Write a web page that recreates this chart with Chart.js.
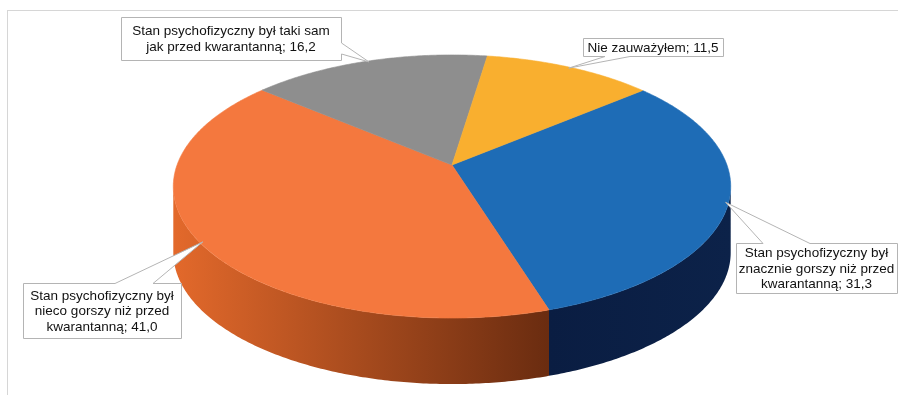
<!DOCTYPE html>
<html>
<head>
<meta charset="utf-8">
<script src="https://cdn.jsdelivr.net/npm/chart.js@4.4.0/dist/chart.umd.min.js"></script>
<style>
  html, body { margin: 0; padding: 0; background: #fff; }
  canvas { display: block; }
</style>
</head>
<body>
<canvas id="pieChart" width="898" height="395"></canvas>
<script>
var categories = [
  ['Stan psychofizyczny był', 'znacznie gorszy niż przed', 'kwarantanną'],
  ['Stan psychofizyczny był', 'nieco gorszy niż przed', 'kwarantanną'],
  ['Stan psychofizyczny był taki sam', 'jak przed kwarantanną'],
  ['Nie zauważyłem']
];
var values = [31.3, 41.0, 16.2, 11.5];

var topColors = ['#1e6cb6', '#f4783e', '#8e8e8e', '#f9af2f'];
// side wall gradient, left -> right
var wallColors = [['#0a1d42', '#0c2249'], ['#e3692b', '#6a2c10'], ['#6e6e6e', '#4a4a4a'], ['#c98a1e', '#9a6a14']];

// callout boxes: rect, which side the pointer leaves from and the pointer base on that side
var callouts = [
  { x: 736, y: 243, w: 161, h: 50, side: 'top', base: [763, 810] },
  { x: 23, y: 283, w: 158, h: 55, side: 'top', base: [115, 153] },
  { x: 121, y: 17, w: 220, h: 43, side: 'right', base: [43, 54] },
  { x: 583, y: 38, w: 140, h: 18, side: 'bottom', base: [605, 630] }
];

// tilted-disc projection, in units of the pie radius
var SX = 2.115;      // horizontal half axis
var SY = 0.985;      // vertical scale
var PERSP = 0.1635;  // front of the disc is nearer to the viewer
var DEPTH = 66;      // height of the side wall
var FONT = '13.5px "Liberation Sans", Arial, sans-serif';
var LINE_H = 15.5;

function fmt(v) {
  return v.toFixed(1).replace('.', ',');
}

// point on the disc at canvas angle a, radius fraction f
function project(arc, a, f) {
  var r = arc.outerRadius;
  var u = Math.cos(a) * f, v = Math.sin(a) * f;
  var w = 1 - PERSP * v;
  return [arc.x + r * SX * u / w, arc.y + r * SY * v / w];
}

function traceRim(ctx, arc, a1, a2, dy, first) {
  var n = Math.max(2, Math.ceil(Math.abs(a2 - a1) / 0.01));
  for (var k = 0; k <= n; k++) {
    var p = project(arc, a1 + (a2 - a1) * k / n, 1);
    if (k === 0 && first) ctx.moveTo(p[0], p[1] + dy);
    else ctx.lineTo(p[0], p[1] + dy);
  }
}

function calloutPath(ctx, c, apex) {
  var x0 = c.x + 0.5, y0 = c.y + 0.5, x1 = c.x + c.w + 0.5, y1 = c.y + c.h + 0.5;
  ctx.beginPath();
  ctx.moveTo(x0, y0);
  if (c.side === 'top') {
    ctx.lineTo(c.base[0], y0); ctx.lineTo(apex[0], apex[1]); ctx.lineTo(c.base[1], y0);
  }
  ctx.lineTo(x1, y0);
  if (c.side === 'right') {
    ctx.lineTo(x1, c.base[0]); ctx.lineTo(apex[0], apex[1]); ctx.lineTo(x1, c.base[1]);
  }
  ctx.lineTo(x1, y1);
  if (c.side === 'bottom') {
    ctx.lineTo(c.base[1], y1); ctx.lineTo(apex[0], apex[1]); ctx.lineTo(c.base[0], y1);
  }
  ctx.lineTo(x0, y1);
  ctx.closePath();
}

var pie3d = {
  id: 'pie3d',
  beforeDraw: function (chart) {
    // chart area frame, only top and left edges fall inside the canvas
    var ctx = chart.ctx;
    ctx.save();
    ctx.strokeStyle = '#d6d6d6';
    ctx.lineWidth = 1;
    ctx.strokeRect(7.5, 10.5, 1000, 1000);
    ctx.restore();
  },
  beforeDatasetsDraw: function (chart) {
    var ctx = chart.ctx;
    var arcs = chart.getDatasetMeta(0).data;
    // silhouette edges of the tilted disc
    var edge = Math.asin(PERSP);
    var lo = edge, hi = Math.PI - edge;
    ctx.save();

    // front walls
    arcs.forEach(function (arc, i) {
      [-2, 0, 2].forEach(function (turn) {
        var a1 = Math.max(arc.startAngle, turn * Math.PI + lo);
        var a2 = Math.min(arc.endAngle, turn * Math.PI + hi);
        if (a2 <= a1) return;
        var pl = project(arc, a2, 1), pr = project(arc, a1, 1);
        var g = ctx.createLinearGradient(pl[0], 0, pr[0], 0);
        g.addColorStop(0, wallColors[i][0]);
        g.addColorStop(1, wallColors[i][1]);
        ctx.beginPath();
        traceRim(ctx, arc, a1, a2, 0, true);
        traceRim(ctx, arc, a2, a1, DEPTH, false);
        ctx.closePath();
        ctx.fillStyle = g;
        ctx.fill();
      });
    });

    // top faces
    arcs.forEach(function (arc) {
      ctx.beginPath();
      ctx.moveTo(arc.x, arc.y);
      traceRim(ctx, arc, arc.startAngle, arc.endAngle, 0, false);
      ctx.closePath();
      ctx.fillStyle = arc.options.backgroundColor;
      ctx.fill();
      ctx.strokeStyle = arc.options.backgroundColor;
      ctx.lineWidth = 0.6;
      ctx.stroke();
    });
    ctx.restore();
    return false;
  },
  afterDraw: function (chart) {
    var ctx = chart.ctx;
    var arcs = chart.getDatasetMeta(0).data;
    ctx.save();
    ctx.font = FONT;
    ctx.textAlign = 'center';
    ctx.textBaseline = 'middle';
    arcs.forEach(function (arc, i) {
      var c = callouts[i];
      var apex = project(arc, (arc.startAngle + arc.endAngle) / 2, 0.99);
      calloutPath(ctx, c, apex);
      ctx.fillStyle = '#fff';
      ctx.fill();
      ctx.strokeStyle = '#b4b4b4';
      ctx.lineWidth = 1;
      ctx.stroke();

      var lines = categories[i].slice();
      lines[lines.length - 1] += '; ' + fmt(values[i]);
      var midX = c.x + c.w / 2;
      var top = c.y + c.h / 2 - (lines.length - 1) * LINE_H / 2 + 1;
      ctx.fillStyle = '#111';
      lines.forEach(function (txt, k) {
        ctx.fillText(txt, midX, top + k * LINE_H);
      });
    });
    ctx.restore();
  }
};

new Chart(document.getElementById('pieChart'), {
  type: 'pie',
  data: {
    labels: categories,
    datasets: [{
      data: values,
      backgroundColor: topColors,
      borderWidth: 0,
      hoverBorderWidth: 0,
      hoverOffset: 0
    }]
  },
  options: {
    responsive: false,
    animation: false,
    events: [],
    rotation: 50,
    layout: {
      padding: { left: 322, right: 316, top: 35, bottom: 100 }
    },
    plugins: {
      legend: { display: false },
      tooltip: { enabled: false }
    }
  },
  plugins: [pie3d]
});
</script>
</body>
</html>
